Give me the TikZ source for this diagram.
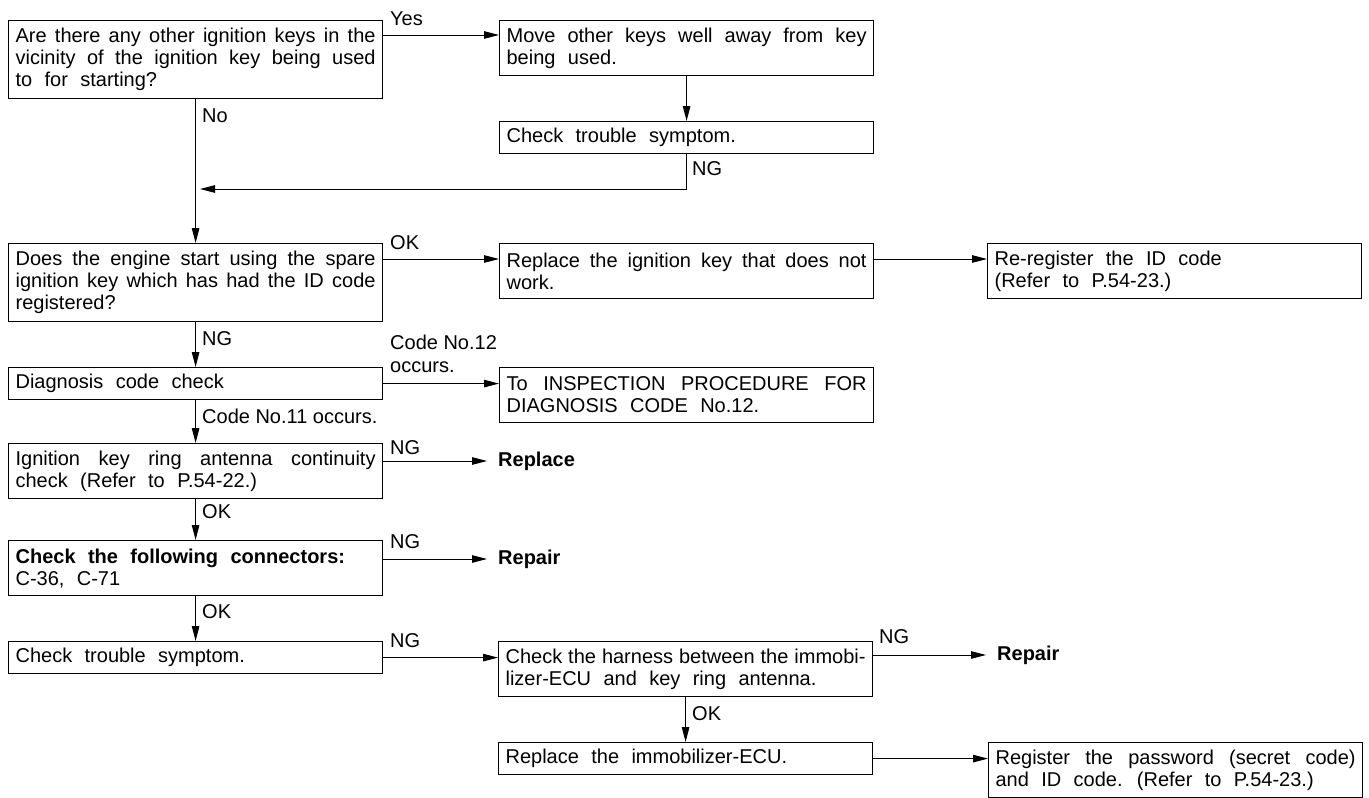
\documentclass[tikz,border=0pt]{standalone}
\usepackage{fontspec}
\setmainfont{Liberation Sans}
\usetikzlibrary{arrows.meta}
\newcommand{\myfs}{\fontsize{20}{22}\selectfont\hyphenpenalty=10000\hbadness=10000\hfuzz=20pt\relax}
\newcommand{\boxfs}{\myfs\spaceskip=0.62em plus 0.5em minus 0.25em\relax}
\begin{document}
\begin{tikzpicture}[x=1pt,y=-1pt,
  box/.style={draw, line width=1.2pt, anchor=north west, inner xsep=7pt, inner ysep=0pt,
    text width=360pt, minimum width=374pt, align=justify, font=\boxfs},
  hone/.style={minimum height=32pt},
  htwo/.style={minimum height=55pt},
  hthree/.style={minimum height=78pt},
  lab/.style={font=\myfs, inner sep=0pt, anchor=base west},
  res/.style={font=\myfs\bfseries, inner xsep=11pt, inner ysep=0pt, anchor=west},
  arr/.style={line width=1pt, -{Triangle[length=15pt,width=7.5pt]}}
]
\useasboundingbox (0,0) rectangle (1369,798);

% boxes
\node[box,hthree] (A) at (8,20) {Are there any other ignition keys in the\linebreak vicinity of the ignition key being used\linebreak to for starting?};
\node[box,htwo] (B) at (499,20) {Move other keys well away from key\linebreak being used.};
\node[box,hone] (C) at (499,121) {Check trouble symptom.};
\node[box,hthree] (D) at (8,243) {Does the engine start using the spare\linebreak ignition key which has had the ID code\linebreak registered?};
\node[box,htwo] (E) at (499,243) {Replace the ignition key that does not\linebreak work.};
\node[box,htwo] (F) at (987,243) {Re-register the ID code\\(Refer to P.54-23.)};
\node[box,hone] (G) at (8,367) {Diagnosis code check};
\node[box,htwo] (H) at (499,367) {To INSPECTION PROCEDURE FOR\linebreak DIAGNOSIS CODE No.12.};
\node[box,htwo] (I) at (8,443) {Ignition key ring antenna continuity\linebreak check (Refer to P.54-22.)};
\node[box,htwo] (J) at (8,540) {\textbf{Check the following connectors:}\\C-36, C-71};
\node[box,hone] (K) at (8,641) {Check trouble symptom.};
\node[box,htwo] (L) at (498,641) {{\spaceskip=0.1em plus 0.5em minus 0.05em Check the harness between the immobi-\linebreak}lizer-ECU and key ring antenna.};
\node[box,hone] (M) at (498,742) {Replace the immobilizer-ECU.};
\node[box,htwo] (N) at (988,742) {Register the password (secret code)\linebreak and ID code. (Refer to P.54-23.)};

% result texts
\node[res] (rp1) at (487,461) {Replace};
\node[res] (rp2) at (487,559) {Repair};
\node[res] (rp3) at (986,655) {Repair};

% labels
\node[lab] (lyes) at (390,25) {Yes};
\node[lab] (lno) at (202,122) {No};
\node[lab] (lng0) at (692,175) {NG};
\node[lab] (lok1) at (390,249) {OK};
\node[lab] (lng1) at (202,345) {NG};
\node[lab] (lc12a) at (390,349) {Code No.12};
\node[lab] (lc12b) at (390,372) {occurs.};
\node[lab] (lc11) at (202,423) {Code No.11 occurs.};
\node[lab] (lng2) at (390,454) {NG};
\node[lab] (lok2) at (202,518) {OK};
\node[lab] (lng3) at (390,548) {NG};
\node[lab] (lok3) at (202,618) {OK};
\node[lab] (lng4) at (390,647) {NG};
\node[lab] (lng5) at (879,643) {NG};
\node[lab] (lok4) at (692,720) {OK};

% connectors
\coordinate (ret) at (200,189);
\draw[arr] (A.south) -- (D.north);
\draw[arr] ([yshift=-15pt]A.north east) -- ([yshift=-15pt]B.north west);
\draw[arr] (B.south) -- (C.north);
\draw[arr] (C.south) |- (ret);
\draw[arr] ([yshift=-16pt]D.north east) -- ([yshift=-16pt]E.north west);
\draw[arr] ([yshift=-16pt]E.north east) -- ([yshift=-16pt]F.north west);
\draw[arr] (D.south) -- (G.north);
\draw[arr] (G.east) -- (G.east -| H.west);
\draw[arr] (G.south) -- (I.north);
\draw[arr] ([yshift=-18pt]I.north east) -- (rp1.west);
\draw[arr] (I.south) -- (J.north);
\draw[arr] ([yshift=-19pt]J.north east) -- (rp2.west);
\draw[arr] (J.south) -- (K.north);
\draw[arr] (K.east) -- (K.east -| L.west);
\draw[arr] ([yshift=-14pt]L.north east) -- (rp3.west);
\draw[arr] (L.south) -- (M.north);
\draw[arr] (M.east) -- (M.east -| N.west);
\end{tikzpicture}
\end{document}
